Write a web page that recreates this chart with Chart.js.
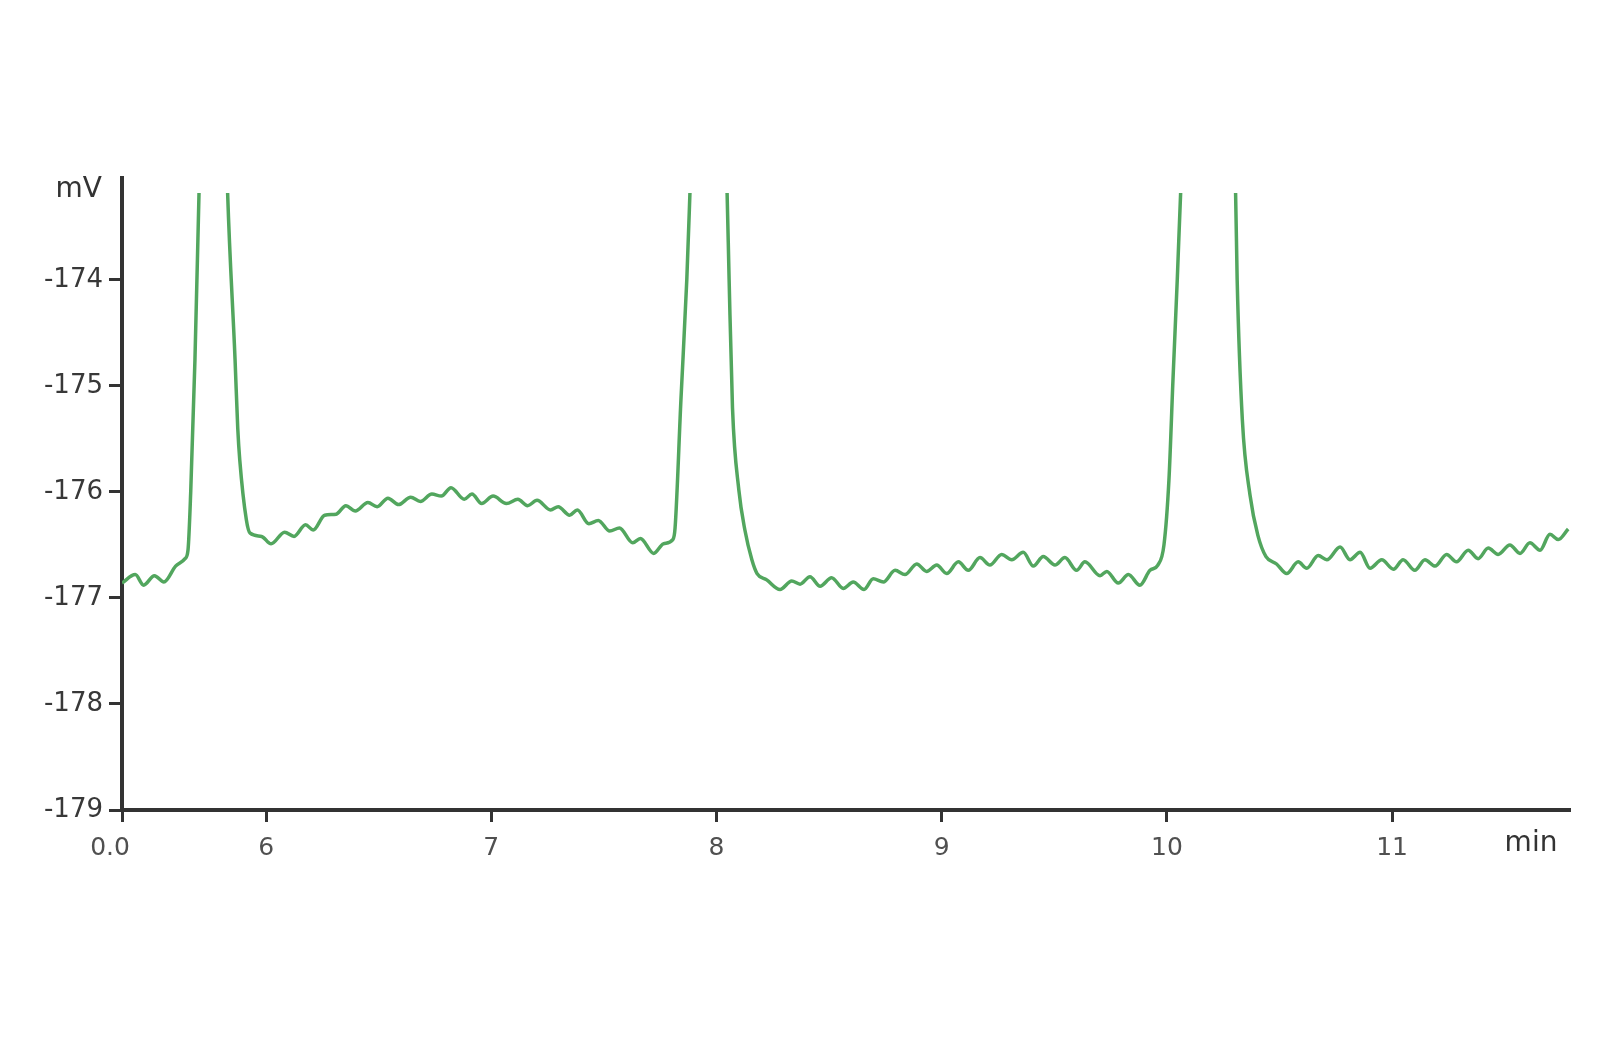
<!DOCTYPE html>
<html>
<head>
<meta charset="utf-8">
<title>mV trace</title>
<script src="https://cdn.jsdelivr.net/npm/chart.js@4.4.1/dist/chart.umd.min.js"></script>
<style>
  html, body { margin: 0; padding: 0; background: #ffffff; }
  #wrap { width: 1600px; height: 1060px; }
</style>
</head>
<body>
<div id="wrap"><canvas id="traceChart" width="1600" height="1060"></canvas></div>
<script>
// vrijeme (min) i napon (mV) ocitani sa slike
const minutes = [
  5.360, 5.419, 5.456, 5.504, 5.546, 5.598, 5.640, 5.653, 5.665, 5.684,
  5.702, 5.765, 5.829, 5.862, 5.874, 5.883, 5.912, 5.929,
  5.980, 6.022, 6.082, 6.124, 6.175, 6.209, 6.260, 6.311, 6.354, 6.396,
  6.452, 6.493, 6.541, 6.588, 6.642, 6.685, 6.736, 6.778, 6.821, 6.880,
  6.914, 6.957, 7.008, 7.067, 7.118, 7.161, 7.203, 7.263, 7.297, 7.348,
  7.382, 7.433, 7.475, 7.526, 7.569, 7.628, 7.662, 7.721, 7.764, 7.806,
  7.816, 7.842, 7.868, 7.882, 7.964, 8.047, 8.056, 8.071, 8.099, 8.126,
  8.157, 8.180,
  8.223, 8.282, 8.334, 8.371, 8.415, 8.460, 8.511, 8.563, 8.607, 8.655,
  8.696, 8.741, 8.793, 8.837, 8.889, 8.933, 8.978, 9.022, 9.074, 9.118,
  9.170, 9.214, 9.266, 9.311, 9.362, 9.407, 9.451, 9.503, 9.547, 9.599,
  9.636, 9.703, 9.733, 9.784, 9.829, 9.880, 9.925,
  9.960, 9.987, 10.009, 10.027, 10.046, 10.061, 10.182, 10.305, 10.312, 10.335,
  10.369, 10.404, 10.440, 10.487,
  10.532, 10.583, 10.621, 10.672, 10.710, 10.769, 10.813, 10.858, 10.902, 10.954,
  11.006, 11.049, 11.101, 11.146, 11.191, 11.242, 11.286, 11.338, 11.382, 11.427,
  11.471, 11.523, 11.568, 11.612, 11.657, 11.701, 11.738, 11.782
];

const millivolts = [
  -176.86, -176.78, -176.88, -176.79, -176.85, -176.70, -176.63, -176.55, -176.01, -174.75,
  -173.18, -168.00, -173.18, -174.75, -175.40, -175.70, -176.26, -176.39,
  -176.42, -176.49, -176.38, -176.42, -176.31, -176.36, -176.22, -176.21, -176.13, -176.18,
  -176.10, -176.14, -176.06, -176.12, -176.05, -176.09, -176.02, -176.04, -175.96, -176.07,
  -176.02, -176.11, -176.04, -176.11, -176.07, -176.13, -176.08, -176.17, -176.14, -176.22,
  -176.17, -176.30, -176.27, -176.37, -176.34, -176.48, -176.44, -176.58, -176.49, -176.45,
  -176.34, -175.13, -174.00, -173.18, -168.00, -173.18, -174.00, -175.21, -175.98, -176.36,
  -176.64, -176.77,
  -176.83, -176.92, -176.84, -176.87, -176.80, -176.89, -176.81, -176.91, -176.85, -176.92,
  -176.82, -176.85, -176.74, -176.78, -176.68, -176.75, -176.69, -176.77, -176.66, -176.74,
  -176.62, -176.69, -176.59, -176.64, -176.57, -176.70, -176.61, -176.69, -176.62, -176.74,
  -176.66, -176.79, -176.75, -176.86, -176.78, -176.88, -176.74,
  -176.69, -176.50, -175.89, -174.94, -174.00, -173.18, -168.00, -173.18, -174.00, -175.32,
  -176.03, -176.41, -176.61, -176.68,
  -176.77, -176.66, -176.72, -176.60, -176.64, -176.52, -176.64, -176.57, -176.72, -176.64,
  -176.73, -176.64, -176.74, -176.64, -176.70, -176.59, -176.66, -176.55, -176.63, -176.53,
  -176.59, -176.50, -176.58, -176.48, -176.55, -176.40, -176.45, -176.35
];

// oznake na osima
const xTickValues = [5.36, 6, 7, 8, 9, 10, 11];
const xTickLabels = ['0.0', '6', '7', '8', '9', '10', '11'];
const yTickValues = [-179, -178, -177, -176, -175, -174];

const axisColor = '#333333';
const traceColor = '#52a65e';

// crta "mV" i "min" pored osa
const axisUnits = {
  id: 'axisUnits',
  afterDraw(chart) {
    const ctx = chart.ctx;
    const area = chart.chartArea;
    ctx.save();
    ctx.fillStyle = '#333333';
    ctx.font = '28px "DejaVu Sans"';
    ctx.textAlign = 'right';
    ctx.textBaseline = 'alphabetic';
    ctx.fillText('mV', area.left - 20, area.top + 19);
    ctx.textAlign = 'center';
    ctx.fillText('min', area.right - 39, area.bottom + 41);
    ctx.restore();
  }
};

const points = minutes.map((m, i) => ({ x: m, y: millivolts[i] }));

const ctx = document.getElementById('traceChart').getContext('2d');
new Chart(ctx, {
  type: 'line',
  data: {
    datasets: [{
      data: points,
      borderColor: traceColor,
      borderWidth: 3.5,
      pointRadius: 0,
      fill: false,
      cubicInterpolationMode: 'monotone',
      clip: { left: 0, top: -15, right: 0, bottom: 0 }
    }]
  },
  plugins: [axisUnits],
  options: {
    responsive: false,
    animation: false,
    layout: {
      padding: { top: 178, right: 30, bottom: 0, left: 0 }
    },
    plugins: {
      legend: { display: false },
      tooltip: { enabled: false }
    },
    scales: {
      x: {
        type: 'linear',
        min: 5.36,
        max: 11.79,
        afterFit(scale) { scale.height = 250; },
        afterBuildTicks(scale) {
          scale.ticks = xTickValues.map(v => ({ value: v }));
        },
        border: { display: true, color: axisColor, width: 4 },
        grid: {
          drawOnChartArea: false,
          drawTicks: true,
          tickLength: 12,
          tickColor: axisColor,
          tickWidth: 3
        },
        ticks: {
          color: '#505050',
          padding: 11,
          maxRotation: 0,
          autoSkip: false,
          font: { family: 'DejaVu Sans', size: 25 },
          // prva oznaka je malo pomaknuta ulijevo kao na originalu
          callback: (value, index) => index === 0 ? xTickLabels[0] + '   ' : xTickLabels[index]
        }
      },
      y: {
        type: 'linear',
        min: -179,
        max: -173.04,
        afterFit(scale) { scale.width = 122; },
        afterBuildTicks(scale) {
          scale.ticks = yTickValues.map(v => ({ value: v }));
        },
        border: { display: true, color: axisColor, width: 4 },
        grid: {
          drawOnChartArea: false,
          drawTicks: true,
          tickLength: 13,
          tickColor: axisColor,
          tickWidth: 3
        },
        ticks: {
          color: '#383838',
          padding: 6,
          font: { family: 'DejaVu Sans', size: 26 },
          callback: value => String(value)
        }
      }
    }
  }
});
</script>
</body>
</html>
